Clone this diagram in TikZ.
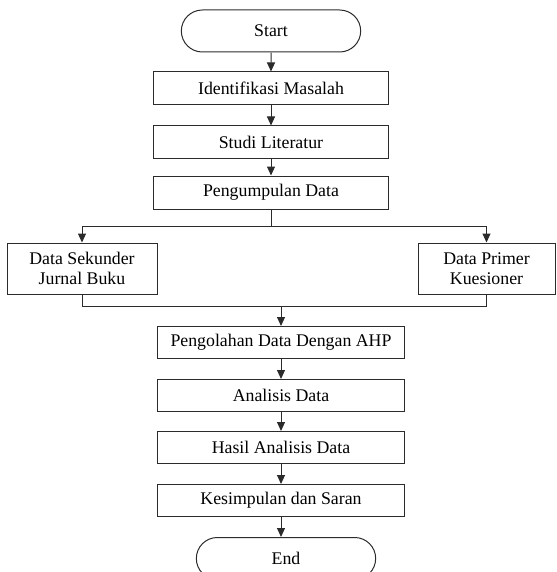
\documentclass[tikz,border=0pt]{standalone}
\usepackage{fontspec}
\setmainfont{Liberation Serif}
\usepackage{tikz}
\usetikzlibrary{arrows.meta,positioning,shapes.misc}
\definecolor{ink}{HTML}{2B2B2B}

\begin{document}
\begin{tikzpicture}[x=1pt, y=1pt,
  font=\fontsize{17.8}{20}\selectfont,
  term/.style={draw=ink, line width=1pt, rounded rectangle, minimum width=186pt,
               minimum height=42pt},
  box/.style={draw=ink, line width=1pt, minimum width=235pt, minimum height=33pt},
  lbox/.style={draw=ink, line width=1pt, minimum width=247pt, minimum height=32pt},
  side/.style={draw=ink, line width=1pt, minimum height=51pt, align=center},
  line/.style={draw=ink, line width=1pt},
  arr/.style={line, -{Triangle[length=9pt, width=8pt]}}
]
  \clip (0,0) rectangle (556,-572);

  \node[term] (start) at (271,-31) {Start};
  \node[box, below=19pt of start] (ident) {Identifikasi Masalah};
  \node[box, below=20pt of ident] (studi) {Studi Literatur};
  \node[box, below=16pt of studi] (kumpul) {Pengumpulan Data};

  \node[side, minimum width=150pt] (sekunder) at (82,-268.5) {Data Sekunder\\Jurnal Buku};
  \node[side, minimum width=137pt] (primer) at (486.5,-268.5) {Data Primer\\Kuesioner};

  \coordinate[below=17pt of kumpul.south] (split);
  \coordinate (merge) at (281,-306);

  \node[lbox, below=20pt of merge, anchor=north] (olah) {Pengolahan Data Dengan AHP};
  \node[lbox, below=20pt of olah] (analisis) {Analisis Data};
  \node[lbox, below=19pt of analisis] (hasil) {Hasil Analisis Data};
  \node[lbox, below=20pt of hasil] (simpul) {Kesimpulan dan Saran};
  \node[term, below=20pt of simpul, xshift=5pt] (end) {End};

  \draw[arr] (start) -- (ident);
  \draw[arr] (ident) -- (studi);
  \draw[arr] (studi) -- (kumpul);

  % percabangan data
  \draw[line] (kumpul) -- (split);
  \draw[arr] (split) -| (sekunder.north);
  \draw[arr] (split) -| (primer.north);
  \draw[line] (sekunder.south) |- (merge);
  \draw[line] (primer.south) |- (merge);

  \draw[arr] (merge) -- (olah);
  \draw[arr] (olah) -- (analisis);
  \draw[arr] (analisis) -- (hasil);
  \draw[arr] (hasil) -- (simpul);
  \draw[arr] (simpul.south) -- (simpul.south |- end.north);
\end{tikzpicture}
\end{document}
